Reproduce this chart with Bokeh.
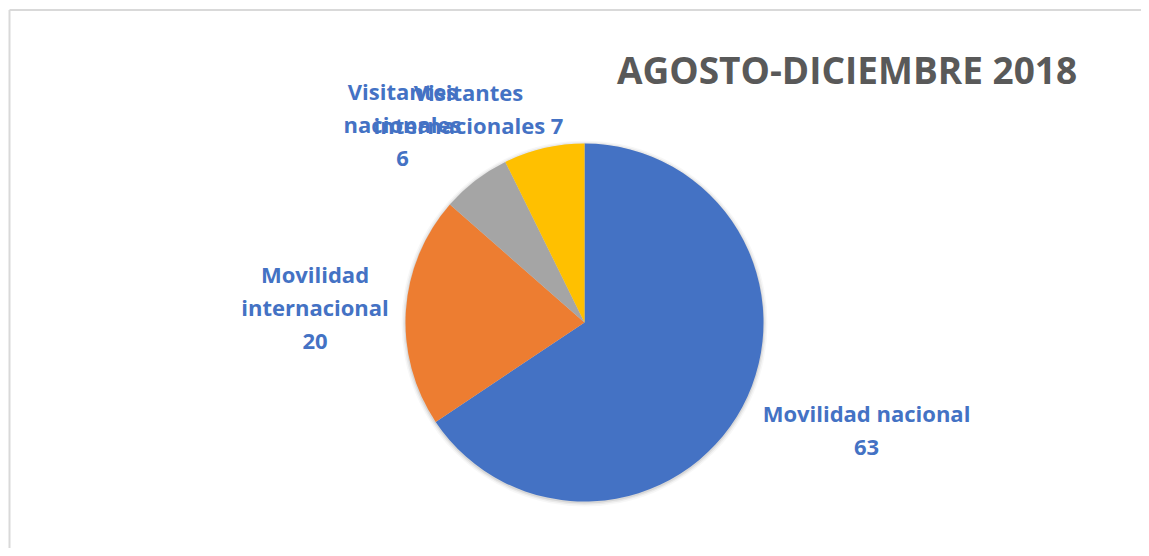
import math
from bokeh.plotting import figure
from bokeh.models import ColumnDataSource, Range1d
from bokeh.core.properties import value
from bokeh.embed import file_html
from bokeh.resources import INLINE

title_text = "AGOSTO-DICIEMBRE 2018"
categories = ["Movilidad nacional", "Movilidad internacional", "Visitantes nacionales", "Visitantes internacionales"]
values = [63, 20, 6, 7]
colors = ["#4472C4", "#ED7D31", "#A5A5A5", "#FFC000"]
label_texts = ["Movilidad nacional\n63", "Movilidad\ninternacional\n20", "Visitantes\nnacionales\n6", "Visitantes\ninternacionales 7"]

# layout (data units = pixels)
W, H = 1141, 548
cx, cy, r = 584, 226, 179
label_x = [866, 314.5, 402, 468]
label_y = [119, 242, 425, 440]

total = float(sum(values))
starts, ends = [], []
acc = 0.0
for v in values:
    a0 = math.pi / 2 - 2 * math.pi * acc / total
    acc += v
    a1 = math.pi / 2 - 2 * math.pi * acc / total
    starts.append(a0)
    ends.append(a1)

src = ColumnDataSource(dict(cat=categories, val=values, color=colors,
                            start=starts, end=ends,
                            x=[cx] * len(values), y=[cy] * len(values)))

p = figure(width=W, height=H, output_backend="svg", toolbar_location=None,
           x_range=Range1d(0, W), y_range=Range1d(0, H), min_border=0)
p.axis.visible = False
p.grid.visible = False
p.outline_line_color = None
p.background_fill_color = "white"
p.border_fill_color = "white"

# chart-area frame: only top and left edges are within view
fy = H - 9.5
p.segment(x0=[9, 9], y0=[fy, fy], x1=[W + 30, 9], y1=[fy, -30],
          line_color="#D9D9D9", line_width=2)

# soft shadow
for rr, al in [(183, 0.03), (181.5, 0.05), (180, 0.08)]:
    p.circle(x=[cx], y=[cy - 1], radius=rr, fill_color="black", fill_alpha=al, line_color=None)

p.wedge(x="x", y="y", radius=r, start_angle="start", end_angle="end", direction="clock",
        fill_color="color", line_color=None, source=src)

lsrc = ColumnDataSource(dict(x=label_x, y=label_y, t=label_texts))
p.text(x="x", y="y", text="t", source=lsrc, text_font=value("Open Sans"), text_font_style="bold",
       text_font_size="22px", text_color="#4472C4", text_align="center", text_baseline="middle",
       text_line_height=1.1)

p.text(x=[846.5], y=[479], text=[title_text], text_font=value("Open Sans"), text_font_style="bold",
       text_font_size="37px", text_color="#595959", text_align="center", text_baseline="alphabetic")

open("out.html", "w").write(file_html(p, INLINE))
